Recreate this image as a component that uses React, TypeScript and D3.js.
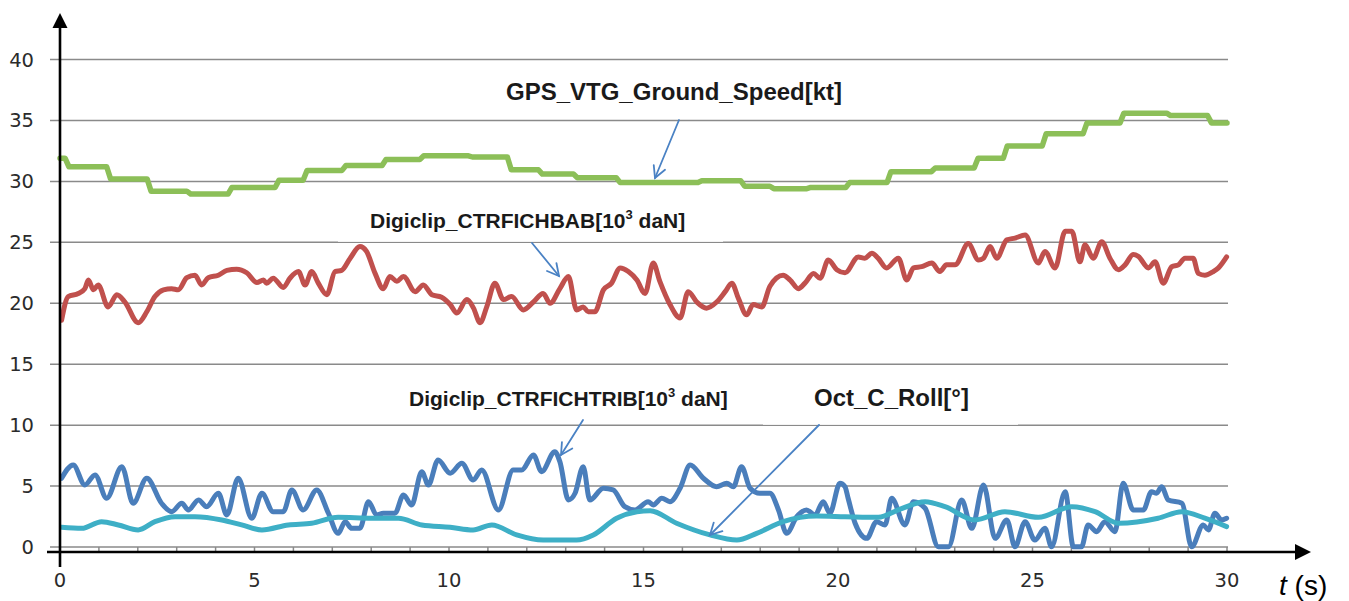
import React from "react";
import * as d3 from "d3";

// ---------- DATA ----------
const yTicks = [0, 5, 10, 15, 20, 25, 30, 35, 40];
const xTicks = [0, 5, 10, 15, 20, 25, 30];
const xMinorTicks = d3.range(0, 31, 1);

// GPS_VTG_Ground_Speed[kt] : step levels [start time, value]
const gpsLevels: [number, number][] = [
  [0, 31.9], [0.13, 31.2], [1.2, 30.2], [2.24, 29.2], [3.26, 28.96], [4.32, 29.5],
  [5.53, 30.1], [6.25, 30.9], [7.25, 31.3], [8.28, 31.8], [9.25, 32.1], [10.5, 32.0],
  [11.5, 30.95], [12.3, 30.6], [13.2, 30.3], [14.3, 29.9], [16.4, 30.05], [17.5, 29.6],
  [18.25, 29.4], [19.2, 29.5], [20.2, 29.9], [21.26, 30.8], [22.4, 31.1], [23.5, 31.9],
  [24.25, 32.9], [25.25, 33.9], [26.3, 34.8], [27.25, 35.6], [28.45, 35.4], [29.5, 34.8],
];
const gpsEnd = 30;

// Digiclip_CTRFICHBAB[10^3 daN]
const babSeries: [number, number][] = [
  [0.04, 18.6], [0.21, 20.55], [0.47, 20.8], [0.64, 21.2], [0.73, 21.9], [0.86, 21.1],
  [0.98, 21.5], [1.24, 19.7], [1.46, 20.7], [1.67, 20.1], [2.01, 18.4], [2.23, 19.3],
  [2.44, 20.55], [2.66, 21.1], [2.87, 21.2], [3.04, 21.1], [3.26, 22.1], [3.47, 22.3],
  [3.64, 21.5], [3.81, 22.1], [4.07, 22.3], [4.29, 22.7], [4.54, 22.8], [4.8, 22.5],
  [5.06, 21.7], [5.23, 21.9], [5.31, 21.65], [5.48, 22.05], [5.74, 21.3], [5.91, 22.05],
  [6.13, 22.6], [6.3, 21.5], [6.47, 22.6], [6.64, 21.65], [6.86, 20.7], [7.07, 22.6],
  [7.24, 22.7], [7.46, 23.7], [7.71, 24.65], [7.88, 24.25], [8.1, 22.45], [8.31, 21.2],
  [8.48, 22.2], [8.66, 21.8], [8.83, 22.2], [9.13, 20.95], [9.34, 21.5], [9.56, 20.7],
  [9.81, 20.5], [10.03, 19.9], [10.2, 19.2], [10.46, 20.3], [10.63, 19.6], [10.8, 18.4],
  [10.97, 19.7], [11.18, 21.65], [11.4, 20.3], [11.61, 20.55], [11.91, 19.45], [12.17, 20.1],
  [12.42, 20.8], [12.6, 20.0], [12.85, 21.2], [13.07, 22.2], [13.28, 19.45], [13.45, 19.7],
  [13.58, 19.3], [13.75, 19.3], [13.97, 21.1], [14.18, 21.65], [14.4, 22.9], [14.61, 22.6],
  [14.83, 21.9], [15.04, 20.8], [15.25, 23.3], [15.42, 21.8], [15.68, 19.9], [15.94, 18.8],
  [16.15, 20.95], [16.37, 20.1], [16.62, 19.6], [16.88, 20.1], [17.1, 20.95], [17.27, 21.65],
  [17.44, 20.4], [17.65, 19.05], [17.82, 19.9], [18.04, 19.7], [18.25, 21.4], [18.59, 22.3],
  [18.77, 21.9], [18.98, 21.2], [19.15, 21.65], [19.37, 22.45], [19.54, 22.05], [19.75, 23.55],
  [19.97, 22.75], [20.18, 22.5], [20.52, 23.8], [20.69, 23.7], [20.87, 24.1], [21.03, 23.7],
  [21.25, 22.9], [21.55, 23.7], [21.77, 21.9], [21.94, 22.9], [22.15, 23.0], [22.41, 23.3],
  [22.62, 22.6], [22.79, 23.15], [23.01, 23.15], [23.35, 24.9], [23.61, 23.55], [23.74, 23.7],
  [23.91, 24.65], [24.08, 23.7], [24.34, 25.2], [24.55, 25.35], [24.81, 25.6], [25.15, 23.3],
  [25.32, 24.25], [25.58, 22.9], [25.84, 25.9], [26.01, 25.9], [26.22, 23.4], [26.35, 24.8],
  [26.56, 23.7], [26.78, 25.05], [26.99, 23.7], [27.21, 22.75], [27.38, 23.15], [27.59, 24.0],
  [27.72, 23.85], [27.98, 22.9], [28.15, 23.4], [28.36, 21.65], [28.58, 23.0], [28.75, 23.15],
  [28.92, 23.7], [29.13, 23.7], [29.26, 22.45], [29.43, 22.3], [29.65, 22.6], [29.78, 22.9],
  [29.99, 23.8],
];

// Digiclip_CTRFICHTRIB[10^3 daN]
const tribSeries: [number, number][] = [
  [0.04, 5.64], [0.34, 6.73], [0.64, 5.09], [0.9, 5.91], [1.2, 4.0], [1.59, 6.59],
  [1.88, 3.59], [2.23, 5.64], [2.61, 3.59], [2.87, 2.9], [3.13, 3.59], [3.3, 3.04],
  [3.56, 3.86], [3.77, 3.31], [4.07, 4.41], [4.29, 2.63], [4.58, 5.64], [4.93, 2.36],
  [5.19, 4.41], [5.48, 2.9], [5.74, 2.9], [5.96, 4.68], [6.25, 3.04], [6.6, 4.68],
  [6.9, 2.77], [7.15, 1.12], [7.33, 2.08], [7.5, 1.53], [7.71, 1.53], [7.93, 3.72],
  [8.14, 2.63], [8.31, 2.77], [8.61, 2.77], [8.83, 4.27], [9.04, 3.45], [9.3, 6.18],
  [9.47, 5.09], [9.72, 7.14], [10.03, 6.05], [10.33, 6.87], [10.62, 5.5], [10.84, 6.32],
  [11.27, 3.04], [11.65, 6.32], [11.87, 6.32], [12.17, 7.55], [12.38, 6.18], [12.72, 7.82],
  [12.85, 7.0], [13.07, 3.86], [13.24, 4.41], [13.45, 6.59], [13.62, 3.86], [13.97, 4.82],
  [14.22, 4.68], [14.52, 3.31], [14.78, 3.04], [15.12, 3.72], [15.25, 3.45], [15.47, 4.0],
  [15.68, 3.72], [15.94, 4.82], [16.2, 6.73], [16.54, 5.64], [16.88, 4.95], [17.14, 5.23],
  [17.31, 4.95], [17.52, 6.59], [17.74, 4.82], [17.99, 4.41], [18.25, 4.41], [18.47, 3.04],
  [18.68, 1.12], [18.94, 2.49], [19.19, 3.04], [19.41, 2.63], [19.62, 3.72], [19.79, 2.77],
  [20.05, 5.23], [20.18, 4.95], [20.26, 4.0], [20.44, 1.95], [20.74, 0.71], [20.99, 2.08],
  [21.21, 1.81], [21.38, 4.0], [21.72, 1.81], [21.94, 3.72], [22.24, 3.18], [22.58, 0.02],
  [22.84, 0.02], [23.18, 3.86], [23.44, 1.53], [23.74, 5.09], [24.04, 0.71], [24.34, 2.22],
  [24.55, 0.02], [24.81, 2.08], [25.06, 0.57], [25.32, 1.53], [25.49, 0.02], [25.84, 4.54],
  [26.05, 0.02], [26.26, 0.02], [26.43, 1.81], [26.65, 1.26], [26.86, 2.08], [27.12, 1.26],
  [27.33, 5.23], [27.59, 3.04], [27.85, 3.04], [28.06, 4.54], [28.19, 4.41], [28.32, 4.95],
  [28.49, 3.86], [28.84, 3.59], [29.09, 0.02], [29.39, 1.81], [29.52, 1.4], [29.69, 2.77],
  [29.86, 2.22], [29.99, 2.36],
];

// Oct_C_Roll[°]
const rollSeries: [number, number][] = [
  [0.04, 1.62], [0.56, 1.53], [1.07, 2.08], [1.5, 1.81], [2.01, 1.4], [2.44, 2.08],
  [2.96, 2.49], [3.47, 2.49], [4.16, 2.22], [4.67, 1.81], [5.19, 1.4], [5.87, 1.81],
  [6.47, 1.95], [7.15, 2.44], [8.01, 2.36], [8.7, 2.36], [9.3, 1.81], [10.03, 1.62],
  [10.62, 1.4], [11.1, 1.81], [11.74, 0.99], [12.42, 0.57], [13.28, 0.57], [13.71, 0.99],
  [14.31, 2.36], [14.83, 2.9], [15.17, 2.98], [15.85, 1.95], [16.71, 0.99], [17.4, 0.57],
  [17.91, 1.12], [18.59, 2.08], [19.45, 2.54], [20.18, 2.49], [21.04, 2.44], [21.55, 3.04],
  [22.24, 3.72], [22.75, 3.31], [23.52, 2.22], [24.29, 2.9], [25.15, 2.44], [26.01, 3.31],
  [26.61, 2.9], [27.21, 1.95], [28.23, 2.36], [28.84, 2.9], [29.43, 2.36], [29.99, 1.67],
];

// ---------- LAYOUT ----------
const W = 1349;
const H = 601;
const x = d3.scaleLinear().domain([0, 30]).range([60, 1227]);
const y = d3.scaleLinear().domain([0, 40]).range([547, 59.5]);

const COLORS = {
  gps: "#8CBF58",
  bab: "#C0504D",
  trib: "#4A7EBB",
  roll: "#3EAFC6",
  grid: "#8A8A8A",
  arrow: "#4A82C4",
  tick: "#2b2b2b",
};

function gpsPoints(): [number, number][] {
  const pts: [number, number][] = [];
  gpsLevels.forEach(([t, v], i) => {
    const next = i + 1 < gpsLevels.length ? gpsLevels[i + 1][0] : gpsEnd;
    pts.push([i === 0 ? t : t + 0.1, v]);
    pts.push([next, v]);
  });
  return pts;
}

const lineLinear = d3
  .line<[number, number]>()
  .x((d) => x(d[0]))
  .y((d) => y(d[1]));
const lineSmooth = d3
  .line<[number, number]>()
  .x((d) => x(d[0]))
  .y((d) => y(d[1]))
  .curve(d3.curveMonotoneX);

function Arrow({ x1, y1, x2, y2 }: { x1: number; y1: number; x2: number; y2: number }) {
  const ang = Math.atan2(y2 - y1, x2 - x1);
  const len = 13;
  const spread = (28 * Math.PI) / 180;
  const ax1 = x2 - len * Math.cos(ang - spread);
  const ay1 = y2 - len * Math.sin(ang - spread);
  const ax2 = x2 - len * Math.cos(ang + spread);
  const ay2 = y2 - len * Math.sin(ang + spread);
  return (
    <g stroke={COLORS.arrow} strokeWidth={1.8} fill="none" strokeLinecap="round">
      <line x1={x1} y1={y1} x2={x2} y2={y2} />
      <polyline points={`${ax1},${ay1} ${x2},${y2} ${ax2},${ay2}`} />
    </g>
  );
}

export default function App() {
  const labelFont = "'Liberation Sans', Arial, sans-serif";
  const tickFont = "'DejaVu Sans', Verdana, sans-serif";
  return (
    <svg
      width={W}
      height={H}
      style={{ position: "absolute", left: 0, top: 0, background: "#fff" }}
    >
      <rect x={0} y={0} width={W} height={H} fill="#fff" />
      {/* gridlines */}
      {yTicks.map((t) => (
        <line key={t} x1={50} x2={1228} y1={y(t)} y2={y(t)} stroke={COLORS.grid} strokeWidth={1.5} />
      ))}
      {/* minor x ticks */}
      {xMinorTicks.map((t) => (
        <line key={t} x1={x(t)} x2={x(t)} y1={y(0)} y2={y(0) + 5} stroke={COLORS.grid} strokeWidth={1.5} />
      ))}
      {/* y tick labels */}
      {yTicks.map((t) => (
        <text
          key={t}
          x={34}
          y={y(t)}
          dy="0.36em"
          textAnchor="end"
          fontFamily={tickFont}
          fontSize={19.5}
          fill={COLORS.tick}
        >
          {t}
        </text>
      ))}
      {/* x tick labels */}
      {xTicks.map((t) => (
        <text
          key={t}
          x={x(t)}
          y={587}
          textAnchor="middle"
          fontFamily={tickFont}
          fontSize={19.5}
          fill={COLORS.tick}
        >
          {t}
        </text>
      ))}

      {/* series */}
      <path d={lineLinear(gpsPoints()) || ""} fill="none" stroke={COLORS.gps} strokeWidth={5.5} strokeLinejoin="round" strokeLinecap="round" />
      <path d={lineSmooth(babSeries) || ""} fill="none" stroke={COLORS.bab} strokeWidth={5} strokeLinejoin="round" strokeLinecap="round" />
      <path d={lineSmooth(tribSeries) || ""} fill="none" stroke={COLORS.trib} strokeWidth={5} strokeLinejoin="round" strokeLinecap="round" />
      <path d={lineSmooth(rollSeries) || ""} fill="none" stroke={COLORS.roll} strokeWidth={5} strokeLinejoin="round" strokeLinecap="round" />

      {/* axes */}
      <line x1={60} x2={60} y1={25} y2={567} stroke="#000" strokeWidth={2.6} />
      <polygon points="60,13 52.5,28 67.5,28" fill="#000" />
      <line x1={47} x2={1297} y1={552} y2={552} stroke="#000" strokeWidth={2.6} />
      <polygon points="1311,552 1295,544 1295,560" fill="#000" />

      {/* label boxes */}
      <rect x={338} y={198} width={385} height={44} fill="#fff" fillOpacity={0.8} />
      <rect x={763} y={378} width={255} height={47} fill="#fff" fillOpacity={0.8} />

      {/* annotations */}
      <text x={506} y={100} fontFamily={labelFont} fontWeight="bold" fontSize={24} fill="#1a1a1a">
        GPS_VTG_Ground_Speed[kt]
      </text>
      <text x={370} y={228} fontFamily={labelFont} fontWeight="bold" fontSize={21} fill="#1a1a1a">
        Digiclip_CTRFICHBAB[10<tspan fontSize={13} dy={-9}>3</tspan>
        <tspan dy={9}> daN]</tspan>
      </text>
      <text x={409} y={406} fontFamily={labelFont} fontWeight="bold" fontSize={21} fill="#1a1a1a">
        Digiclip_CTRFICHTRIB[10<tspan fontSize={13} dy={-9}>3</tspan>
        <tspan dy={9}> daN]</tspan>
      </text>
      <text x={814} y={406} fontFamily={labelFont} fontWeight="bold" fontSize={24} fill="#1a1a1a">
        Oct_C_Roll[°]
      </text>

      <Arrow x1={679} y1={120} x2={655} y2={178} />
      <Arrow x1={532} y1={243} x2={559} y2={276} />
      <Arrow x1={583} y1={420} x2={561} y2={455} />
      <Arrow x1={819} y1={425} x2={710} y2={535} />

      {/* axis title */}
      <text x={1279} y={595} fontFamily={labelFont} fontSize={28} fill="#000">
        <tspan fontStyle="italic">t</tspan> (s)
      </text>
    </svg>
  );
}
